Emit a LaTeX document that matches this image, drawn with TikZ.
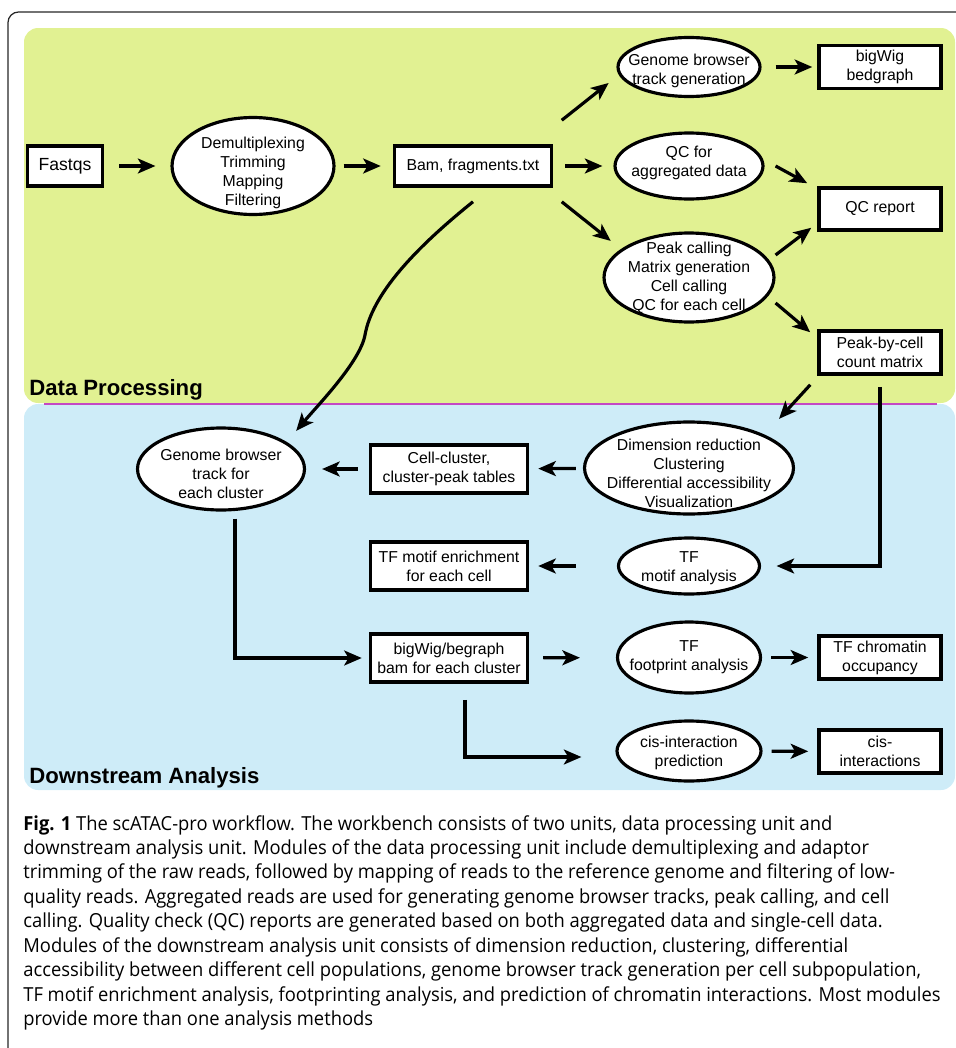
\documentclass[tikz,border=0pt]{standalone}
\usepackage{fontspec}
\setmainfont{Liberation Sans}
\newfontfamily\captionfont{Open Sans}[FakeStretch=0.95]
\usetikzlibrary{arrows.meta,shapes.geometric}
\tikzset{>={Stealth[length=10pt,width=8.5pt,inset=2.5pt]}}
\definecolor{dpgreen}{RGB}{225,241,146}
\definecolor{dablue}{RGB}{206,236,248}
\definecolor{splitline}{RGB}{196,72,196}
\newlength\pxu
\setlength\pxu{0.02cm}
\tikzset{
  box/.style={draw, line width=2pt, fill=white, align=center, inner sep=2pt, font=\fontsize{9}{10.8}\selectfont},
  proc/.style={draw, ellipse, line width=1.8pt, fill=white, inner sep=0pt},
  proctext/.style={align=center, inner sep=0pt, font=\fontsize{9}{10.8}\selectfont},
  flow/.style={->, line width=1.8pt},
  panel/.style={anchor=base west, inner sep=0pt, font=\bfseries\fontsize{12.6}{14}\selectfont}
}

\begin{document}
\begin{tikzpicture}[x=0.02cm, y=-0.02cm]
\useasboundingbox (0,0) rectangle (956,1048);
% frame and panels
\draw[line width=0.7pt, black!85, rounded corners=6pt] (956,12) -- (8,12) -- (8,1048);
\fill[dpgreen, rounded corners=8pt] (24,28) rectangle (955,403);
\fill[dablue, rounded corners=8pt] (24,404) rectangle (955,790);
\draw[splitline, line width=0.8pt] (44,404) -- (937,404);
\node[panel] (dplabel) at (29,395) {Data Processing};
\node[panel] (dalabel) at (29,783) {Downstream Analysis};

% data processing
\node[box, minimum width=1.5cm, minimum height=0.8cm, font=\fontsize{10}{12}\selectfont] (fastqs) at (65,166) {Fastqs};
\node[proc, minimum width=3.24cm, minimum height=1.94cm,
  label={[proctext, yshift=-7\pxu]center:Demultiplexing\\Trimming\\Mapping\\Filtering}] (demux) at (253,166) {};
\node[box, minimum width=3.14cm, minimum height=0.8cm] (bam) at (473,166) {Bam, fragments.txt};
\node[proc, minimum width=2.84cm, minimum height=1.18cm,
  label={[proctext, yshift=-4\pxu]center:Genome browser\\track generation}] (gbtrack) at (689,67) {};
\node[box, minimum width=2.44cm, minimum height=0.86cm] (bigwig) at (880,67) {bigWig\\bedgraph};
\node[proc, minimum width=2.96cm, minimum height=1.32cm,
  label={[proctext, yshift=3\pxu]center:QC for\\aggregated data}] (qcagg) at (689,166) {};
\node[box, minimum width=2.44cm, minimum height=0.84cm] (qcreport) at (880,209) {QC report};
\node[proc, minimum width=3.4cm, minimum height=1.78cm,
  label={[proctext]center:Peak calling\\Matrix generation\\Cell calling\\QC for each cell}] (peak) at (689,277.5) {};
\node[box, minimum width=2.44cm, minimum height=0.86cm] (pbc) at (880,352.5) {Peak-by-cell\\count matrix};

% downstream analysis
\node[proc, minimum width=3.34cm, minimum height=1.64cm,
  label={[proctext, yshift=-5\pxu]center:Genome browser\\track for\\each cluster}] (gbcluster) at (221,469) {};
\node[box, minimum width=3.14cm, minimum height=0.96cm] (cellcl) at (449,469) {Cell-cluster,\\cluster-peak tables};
\node[proc, minimum width=4.18cm, minimum height=1.84cm,
  label={[proctext, yshift=-5.5\pxu]center:Dimension reduction\\Clustering\\Differential accessibility\\Visualization}] (dimred) at (689,468) {};
\node[box, minimum width=3.14cm, minimum height=0.96cm] (tfenrich) at (449,566) {TF motif enrichment\\for each cell};
\node[proc, minimum width=2.82cm, minimum height=1.12cm,
  label={[proctext, yshift=-2\pxu]center:TF\\motif analysis}] (tfmotif) at (689,566) {};
\node[box, minimum width=3.14cm, minimum height=0.96cm] (bwcluster) at (449,658) {bigWig/begraph\\bam for each cluster};
\node[proc, minimum width=2.86cm, minimum height=1.42cm,
  label={[proctext]center:TF\\footprint analysis}] (tffoot) at (689,657.5) {};
\node[box, minimum width=2.44cm, minimum height=0.86cm] (tfocc) at (880,657.5) {TF chromatin\\occupancy};
\node[proc, minimum width=2.88cm, minimum height=1.2cm,
  label={[proctext, yshift=-2\pxu]center:cis-interaction\\prediction}] (cispred) at (689,751) {};
\node[box, minimum width=2.44cm, minimum height=0.86cm] (cisint) at (880,751.5) {cis-\\interactions};

% straight arrows
\draw[flow, shorten <=15\pxu, shorten >=15\pxu] (fastqs) -- (demux);
\draw[flow, shorten <=8\pxu, shorten >=12\pxu] (demux) -- (bam);
\draw[flow, shorten <=12\pxu, shorten >=11\pxu] (bam) -- (qcagg);
\draw[flow, shorten <=14\pxu, shorten >=5\pxu] (gbtrack) -- (bigwig);
\draw[flow, shorten <=9\pxu, shorten >=9\pxu] (tffoot) -- (tfocc);
\draw[flow, shorten <=9\pxu, shorten >=9\pxu] (cispred) -- (cisint);
\draw[flow, shorten <=7\pxu, shorten >=9\pxu] (dimred) -- (cellcl);
\draw[flow, shorten <=11\pxu, shorten >=16\pxu] (cellcl) -- (gbcluster);
\draw[flow, shorten <=41\pxu, shorten >=9\pxu] (tfmotif) -- (tfenrich);
\draw[flow, shorten <=14\pxu, shorten >=36\pxu] (bwcluster) -- (tffoot);

% diagonal arrows
\draw[flow] ([shift={(8.5,-24)}]bam.north east) -- ([shift={(-29,-6)}]gbtrack.south west);
\draw[flow] ([shift={(8.5,14)}]bam.south east) -- ([shift={(-17,-4)}]peak.north west);
\draw[flow] ([shift={(11,0)}]qcagg.east) -- ([shift={(-10,-3)}]qcreport.north west);
\draw[flow] ([shift={(0,-22.5)}]peak.east) -- ([shift={(-6,-4)}]qcreport.south west);
\draw[flow] ([shift={(0,25.5)}]peak.east) -- ([shift={(-7,3)}]pbc.north west);
\draw[flow] ([shift={(-7,9)}]pbc.south west) -- ([shift={(15,-15.5)}]dimred.north east);

% elbows and curve
\draw[flow] ([shift={(0,11)}]pbc.south) |- ([shift={(15.5,0)}]tfmotif.east);
\draw[flow] ([shift={(14,7)}]gbcluster.south) |- ([shift={(-7,0)}]bwcluster.west);
\draw[flow] ([shift={(16,16)}]bwcluster.south) |- ([shift={(-34,6)}]cispred.west);
\draw[flow] ([shift={(0,14)}]bam.south) .. controls (413,250) and (372,295) .. (365,335)
  .. controls (360,362) and (318,405) .. ([shift={(15,-8)}]gbcluster.north east);

% caption
\node[anchor=north west, inner sep=0pt, align=left, font=\captionfont\fontsize{11}{13.9}\selectfont] (caption) at (23,815)
{\textbf{Fig. 1} The scATAC-pro workflow. The workbench consists of two units, data processing unit and\\
downstream analysis unit. Modules of the data processing unit include demultiplexing and adaptor\\
trimming of the raw reads, followed by mapping of reads to the reference genome and filtering of low-\\
quality reads. Aggregated reads are used for generating genome browser tracks, peak calling, and cell\\
calling. Quality check (QC) reports are generated based on both aggregated data and single-cell data.\\
Modules of the downstream analysis unit consists of dimension reduction, clustering, differential\\
accessibility between different cell populations, genome browser track generation per cell subpopulation,\\
TF motif enrichment analysis, footprinting analysis, and prediction of chromatin interactions. Most modules\\
provide more than one analysis methods};
\end{tikzpicture}
\end{document}
